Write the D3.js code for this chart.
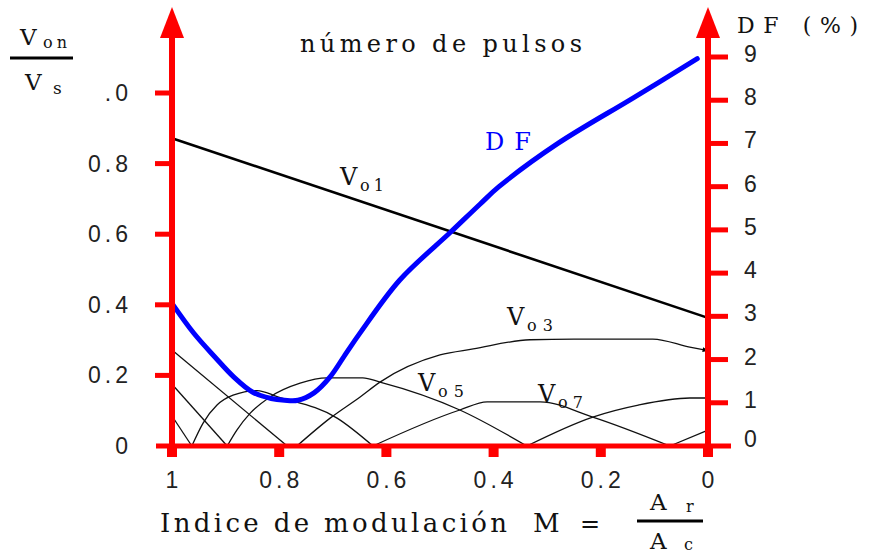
<!DOCTYPE html>
<html>
<head>
<meta charset="utf-8">
<script src="https://cdn.jsdelivr.net/npm/d3@7"></script>
<style>
  body { margin: 0; background: #fff; }
  svg { display: block; }
  .serif { font-family: 'DejaVu Serif', serif; }
  .sans { font-family: 'Liberation Sans', Arial, sans-serif; }
</style>
</head>
<body>
<svg id="chart" width="871" height="554"></svg>
<script>
// modulation index ticks (axis runs from 1 down to 0)
const mTicks = [1, 0.8, 0.6, 0.4, 0.2, 0]
const mLabels = ['1', '0.8', '0.6', '0.4', '0.2', '0']

// left axis: Von / Vs
const vTicks = [0.2, 0.4, 0.6, 0.8, 1.0]
const vLabels = [['0', 0], ['0.2', 0.2], ['0.4', 0.4], ['0.6', 0.6], ['0.8', 0.8], ['.0', 1.0]]

// right axis: DF (%)
const dfTicks = [1, 2, 3, 4, 5, 6, 7, 8, 9]
const dfLabels = [0, 1, 2, 3, 4, 5, 6, 7, 8, 9]

// series, [M, value]
const vo1 = [[1, 0.872], [0, 0.363]]
const vo3 = [[1, 0.272], [0.785, 0], [0.767, 0], [0.705, 0.079], [0.649, 0.139], [0.612, 0.181],
  [0.5, 0.258], [0.438, 0.275], [0.332, 0.301], [0.25, 0.303], [0.103, 0.303], [0.034, 0.28], [0, 0.27]]
const vo5 = [[1, 0.175], [0.897, 0], [0.879, 0.045], [0.854, 0.093], [0.817, 0.139], [0.761, 0.178],
  [0.711, 0.193], [0.644, 0.193], [0.612, 0.181], [0.463, 0.102], [0.338, 0], [0.215, 0.082],
  [0.13, 0.116], [0.034, 0.136], [0, 0.136]]
const vo7 = [[1, 0.085], [0.963, 0], [0.942, 0.065], [0.916, 0.116], [0.886, 0.144], [0.841, 0.157],
  [0.804, 0.14], [0.692, 0.079], [0.625, 0], [0.463, 0.102], [0.412, 0.125], [0.313, 0.125],
  [0.215, 0.082], [0.071, 0], [0, 0.045]]
const df = [[1, 3.3], [0.96, 2.62], [0.92, 2.06], [0.885, 1.6], [0.85, 1.25], [0.815, 1.1],
  [0.79, 1.06], [0.765, 1.06], [0.735, 1.23], [0.705, 1.6], [0.675, 2.15], [0.65, 2.6],
  [0.575, 3.84], [0.48, 4.95], [0.425, 5.6], [0.39, 6.0], [0.28, 7.0], [0.14, 8.05], [0.02, 8.96]]

const RED = '#ff0000'
const svg = d3.select('#chart')

const x = d3.scaleLinear().domain([1, 0]).range([172, 708])
const y = d3.scaleLinear().domain([0, 1]).range([446, 93])
const yDF = d3.scaleLinear().domain([0, 9]).range([446, 57])

// split a harmonic curve at its zeros so each lobe keeps a sharp V
function lobes (pts) {
  let out = []
  let cur = [pts[0]]
  for (let i = 1; i < pts.length; i++) {
    cur.push(pts[i])
    if (pts[i][1] === 0 && i < pts.length - 1) {
      out.push(cur)
      cur = [pts[i]]
    }
  }
  out.push(cur)
  return out
}

const line = d3.line()
  .x(d => x(d[0]))
  .y(d => y(d[1]))
  .curve(d3.curveMonotoneX)

const lineDF = d3.line()
  .x(d => x(d[0]))
  .y(d => yDF(d[1]))
  .curve(d3.curveCatmullRom.alpha(0.5))

// small arrow at the end of Vo3
svg.append('defs').append('marker')
  .attr('id', 'arr')
  .attr('viewBox', '0 0 10 10')
  .attr('refX', 9).attr('refY', 5)
  .attr('markerWidth', 9).attr('markerHeight', 6)
  .attr('markerUnits', 'userSpaceOnUse')
  .attr('orient', 'auto')
  .append('path')
  .attr('d', 'M0,1 L10,5 L0,9 Z')
  .attr('fill', '#000')

// harmonics
const g = svg.append('g')
;[vo3, vo5, vo7].forEach((s, si) => {
  const parts = lobes(s)
  parts.forEach((p, pi) => {
    let path = g.append('path')
      .attr('d', line(p))
      .attr('fill', 'none')
      .attr('stroke', '#111')
      .attr('stroke-width', 1.3)
    if (si === 0 && pi === parts.length - 1) path.attr('marker-end', 'url(#arr)')
  })
})

// fundamental
g.append('path')
  .attr('d', line.curve(d3.curveLinear)(vo1))
  .attr('fill', 'none')
  .attr('stroke', '#000')
  .attr('stroke-width', 2.6)

// distortion factor
g.append('path')
  .attr('d', lineDF(df))
  .attr('fill', 'none')
  .attr('stroke', '#0000ff')
  .attr('stroke-width', 5)
  .attr('stroke-linecap', 'round')

// axes
const ax = svg.append('g')
ax.append('line').attr('x1', 156).attr('x2', 731).attr('y1', 446).attr('y2', 446)
  .attr('stroke', RED).attr('stroke-width', 5)
;[x(1), x(0)].forEach(px => {
  ax.append('line').attr('x1', px).attr('x2', px).attr('y1', 36).attr('y2', 457)
    .attr('stroke', RED).attr('stroke-width', 6)
  ax.append('path')
    .attr('d', `M${px},7 L${px + 12},38 L${px - 12},38 Z`)
    .attr('fill', RED)
})
mTicks.forEach(m => {
  ax.append('rect').attr('x', x(m) - 5).attr('y', 446).attr('width', 10).attr('height', 11)
    .attr('fill', RED)
})
vTicks.forEach(v => {
  ax.append('rect').attr('x', 155).attr('y', y(v) - 2.5).attr('width', 17).attr('height', 5)
    .attr('fill', RED)
})
dfTicks.forEach(v => {
  ax.append('rect').attr('x', 708).attr('y', yDF(v) - 2.5).attr('width', 20).attr('height', 5)
    .attr('fill', RED)
})

// tick labels
const lab = svg.append('g').attr('class', 'sans').attr('fill', '#222')
  .style('font-size', '23px').style('letter-spacing', '4px')
vLabels.forEach(([t, v]) => {
  lab.append('text').attr('x', 132).attr('y', y(v) + 8).attr('text-anchor', 'end').text(t)
})
dfLabels.forEach(v => {
  lab.append('text').attr('x', 744).attr('y', v === 0 ? 447 : yDF(v) + 5).text(v)
})
mLabels.forEach((t, i) => {
  lab.append('text').attr('x', x(mTicks[i]) + 2).attr('y', 488).attr('text-anchor', 'middle').text(t)
})

// texts
const tx = svg.append('g').attr('class', 'serif').attr('fill', '#111')

function txt (s, px, py, size, len, color) {
  let t = tx.append('text').attr('x', px).attr('y', py)
    .style('font-size', size + 'px').text(s)
  if (len) t.attr('textLength', len).attr('lengthAdjust', 'spacing')
  if (color) t.attr('fill', color)
  return t
}

txt('número de pulsos', 300, 52, 24, 282)
txt('DF (%)', 737, 33, 22, 121)
txt('DF', 485, 150, 24, 46, '#0000ff')

// Von / Vs
txt('V', 20, 45, 23)
txt('on', 43, 48, 16, 24)
tx.append('line').attr('x1', 10).attr('x2', 73).attr('y1', 58).attr('y2', 58)
  .attr('stroke', '#000').attr('stroke-width', 3)
txt('V', 25, 90, 23)
txt('s', 53, 94, 17)

// harmonic labels
function vlab (sub, px, py, w) {
  txt('V', px, py, 24)
  txt(sub, px + 20, py + 6, 16, w)
}
vlab('o1', 340, 185, 24)
vlab('o3', 507, 325, 26)
vlab('o5', 418, 391, 26)
vlab('o7', 538, 402, 25)

// x label
txt('Indice de modulación', 160, 532, 26, 347)
txt('M', 533, 532, 26)
txt('=', 580, 532, 24)
tx.append('line').attr('x1', 637).attr('x2', 703).attr('y1', 521).attr('y2', 521)
  .attr('stroke', '#000').attr('stroke-width', 3)
txt('A', 650, 510, 23)
txt('r', 686, 512, 16)
txt('A', 650, 549, 23)
txt('c', 684, 550, 16)
</script>
</body>
</html>
